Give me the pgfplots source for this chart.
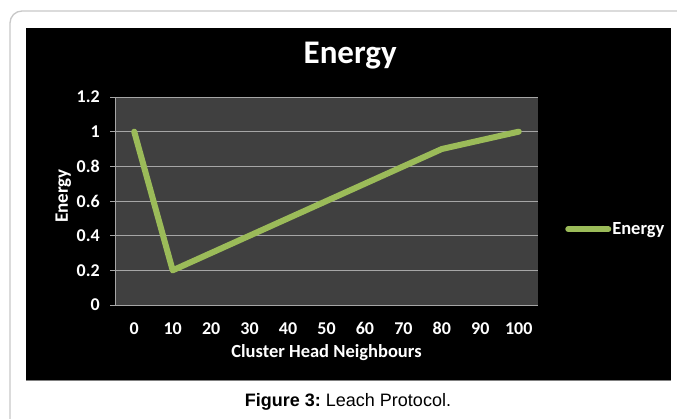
\documentclass[border=0pt]{standalone}
\usepackage{pgfplots}
\pgfplotsset{compat=1.18}
\usepackage{pgfplotstable}
\usepackage{fontspec}
\setmainfont{Liberation Sans}
\newfontfamily\calfont{Carlito}
\definecolor{plotbg}{HTML}{404040}
\definecolor{linegreen}{HTML}{9BBB59}
\definecolor{gridc}{HTML}{A6A6A6}
\definecolor{framec}{HTML}{C8C8C8}
\frenchspacing

\pgfplotstableread{
idx energy
0 1.00
1 0.20
2 0.30
3 0.40
4 0.50
5 0.60
6 0.70
7 0.80
8 0.90
9 0.95
10 1.00
}\energydata

\begin{document}
\begin{tikzpicture}[x=1pt,y=1pt]
\useasboundingbox (0,0) rectangle (677,419);
\begin{scope}
\clip (0,0) rectangle (677,419);
\fill[white] (0,0) rectangle (677,419);
\draw[framec, line width=1.3pt, rounded corners=12pt] (10,-20) rectangle (700,408);
\end{scope}
\fill[black] (26,39) rectangle (671,391);
\draw[gray, line width=0.8pt] (26,39) -- (671,39);
\begin{axis}[
  at={(115pt,114pt)}, anchor=south west,
  scale only axis, width=423pt, height=208pt,
  xmin=-0.5, xmax=10.5, ymin=0, ymax=1.2,
  xtick={0,1,2,3,4,5,6,7,8,9,10},
  xticklabels={0,10,20,30,40,50,60,70,80,90,100},
  ytick={0,0.2,0.4,0.6,0.8,1,1.2},
  yticklabels={0,0.2,0.4,0.6,0.8,1,1.2},
  axis background/.style={fill=plotbg},
  axis x line*=bottom, axis y line*=left,
  axis line style={gridc, line width=0.8pt},
  ymajorgrids, grid style={gridc, line width=0.8pt},
  major tick length=5pt,
  tick align=outside,
  ytick style={gridc, line width=0.8pt},
  xtick style={draw=none},
  ticklabel style={text=white, font=\calfont\bfseries\fontsize{18}{18}\selectfont, inner sep=0pt},
  xticklabel style={anchor=base, yshift=-25pt},
  yticklabel style={anchor=east, xshift=-10pt},
  xlabel={Cluster Head Neighbours},
  ylabel={Energy},
  xlabel style={text=white, font=\calfont\bfseries\fontsize{18.5}{18.5}\selectfont, at={(axis description cs:0.5,-0.252)}, anchor=base},
  ylabel style={text=white, font=\calfont\bfseries\fontsize{19}{19}\selectfont, at={(axis description cs:-0.122,0.524)}, anchor=center},
  title={Energy},
  title style={text=white, font=\calfont\bfseries\fontsize{33}{33}\selectfont, at={(axis description cs:0.556,1)}, anchor=base, yshift=27pt},
  legend style={at={(axis description cs:1.064,0.365)}, anchor=west, draw=none, fill=none, text=white, font=\calfont\bfseries\fontsize{18.5}{18.5}\selectfont, inner sep=0pt, nodes={inner sep=1pt}},
  legend image code/.code={\draw[#1] (0pt,0pt) -- (40pt,0pt);},
  clip=false,
]
\addplot[linegreen, line width=6pt, line join=round, line cap=round] table[x=idx, y=energy] {\energydata};
\addlegendentry{Energy}
\end{axis}
\node[anchor=base, font=\fontsize{18}{18}\selectfont] at (348,12) {\textbf{Figure 3:} Leach Protocol.};
\end{tikzpicture}
\end{document}
